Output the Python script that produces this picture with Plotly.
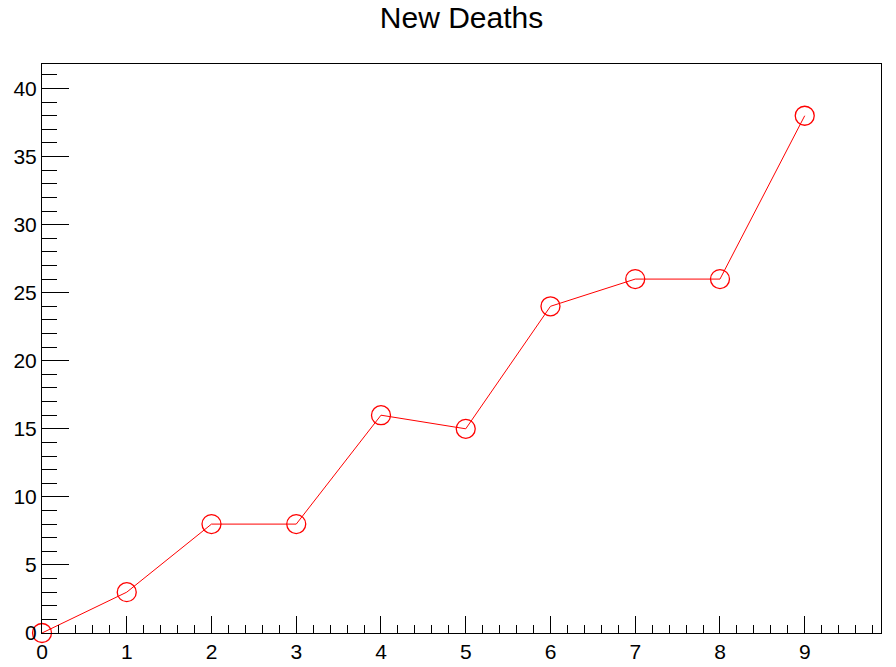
import plotly.graph_objects as go

days = [0, 1, 2, 3, 4, 5, 6, 7, 8, 9]
new_deaths = [0, 3, 8, 8, 16, 15, 24, 26, 26, 38]

fig = go.Figure()
fig.add_trace(go.Scatter(
    x=days, y=new_deaths, mode="lines+markers",
    line=dict(color="red", width=1),
    marker=dict(symbol="circle-open", size=19, color="red", line=dict(color="red", width=1.3)),
    cliponaxis=False, showlegend=False,
))

font_family = "Liberation Sans, Arial, Helvetica, sans-serif"
fig.update_layout(
    width=896, height=667,
    margin=dict(l=42, r=15, t=64, b=34, autoexpand=False),
    paper_bgcolor="white", plot_bgcolor="white",
    title=dict(text="New Deaths", x=0.5, xref="paper", y=1 - 17/667, yref="container",
               xanchor="center", yanchor="middle",
               font=dict(family=font_family, size=30, color="black")),
    font=dict(family=font_family, size=21, color="black"),
)
fig.update_xaxes(
    range=[0, 9.9], tickmode="linear", tick0=0, dtick=1,
    ticks="inside", ticklen=17, tickwidth=1, tickcolor="black",
    minor=dict(dtick=0.2, ticks="inside", ticklen=8, tickwidth=1, tickcolor="black", showgrid=False),
    showline=True, linecolor="black", linewidth=1, mirror=True,
    showgrid=False, zeroline=False, automargin=False,
    tickfont=dict(size=21, color="black"),
)
fig.update_yaxes(
    range=[0, 41.8], tickmode="linear", tick0=0, dtick=5,
    ticks="inside", ticklen=27, tickwidth=1, tickcolor="black",
    minor=dict(dtick=1, ticks="inside", ticklen=15, tickwidth=1, tickcolor="black", showgrid=False),
    showline=True, linecolor="black", linewidth=1, mirror=True,
    showgrid=False, zeroline=False, automargin=False,
    tickfont=dict(size=21, color="black"),
)

fig.write_html("out.html", config={"displayModeBar": False},
               post_script="document.body.style.margin='0';")
